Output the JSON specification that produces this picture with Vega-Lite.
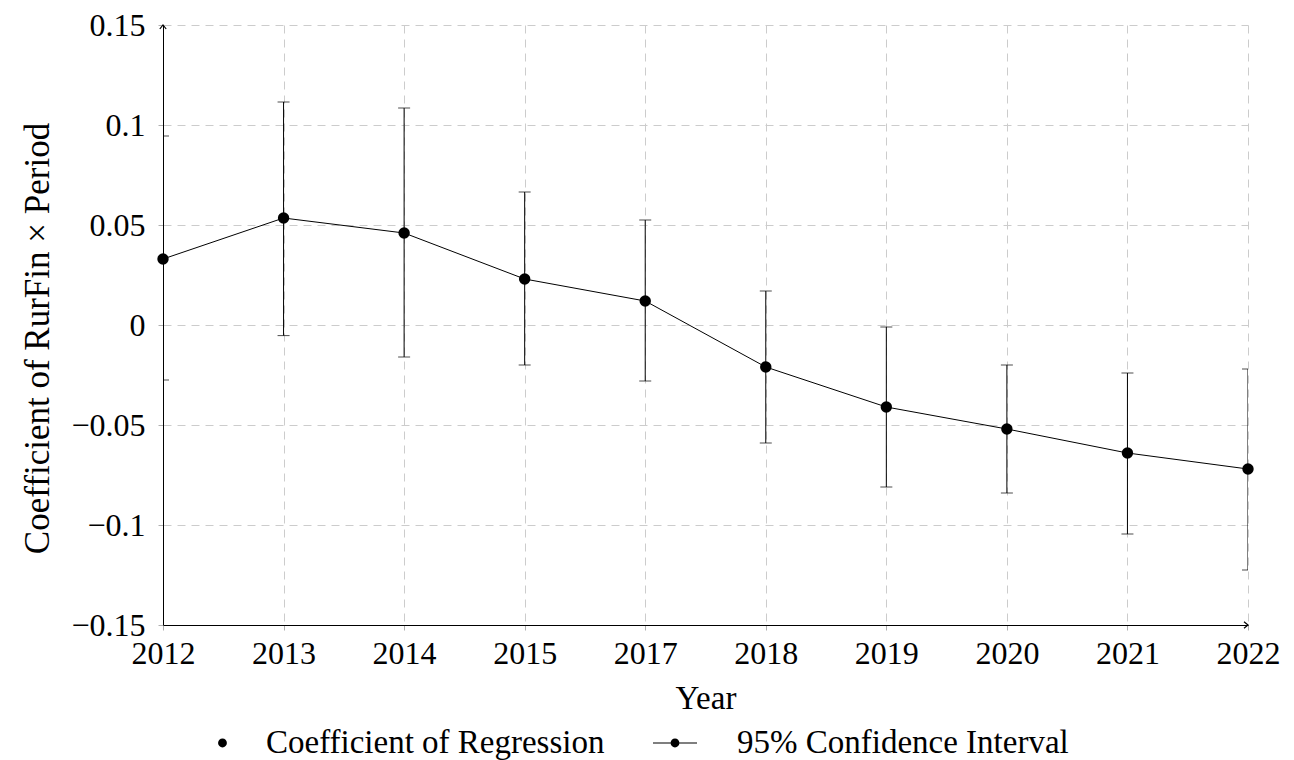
{
  "$schema": "https://vega.github.io/schema/vega-lite/v6.json",
  "width": 1085,
  "height": 600,
  "autosize": {"type": "none"},
  "padding": {"left": 163, "top": 25, "right": 46, "bottom": 135},
  "background": "white",
  "config": {
    "view": {"stroke": null},
    "font": "Liberation Serif",
    "axis": {
      "labelFont": "Liberation Serif",
      "titleFont": "Liberation Serif",
      "labelFontSize": 32,
      "titleFontSize": 33,
      "titleFontWeight": "normal",
      "labelColor": "black",
      "titleColor": "black",
      "domainColor": "black",
      "domainWidth": 1,
      "tickColor": "#b0b0b0",
      "tickSize": 5,
      "gridColor": "#cccccc",
      "gridDash": [8, 6],
      "gridWidth": 1
    },
    "legend": {
      "labelFont": "Liberation Serif",
      "labelFontSize": 33,
      "labelColor": "black",
      "labelLimit": 0
    }
  },
  "datasets": {
    "coef": [
      {"year": "2012", "coef": 0.033, "lo": -0.0275, "hi": 0.0945},
      {"year": "2013", "coef": 0.0535, "lo": -0.0053, "hi": 0.1115},
      {"year": "2014", "coef": 0.046, "lo": -0.016, "hi": 0.1085},
      {"year": "2015", "coef": 0.023, "lo": -0.020, "hi": 0.0665},
      {"year": "2017", "coef": 0.012, "lo": -0.028, "hi": 0.0525},
      {"year": "2018", "coef": -0.021, "lo": -0.059, "hi": 0.017},
      {"year": "2019", "coef": -0.041, "lo": -0.081, "hi": -0.001},
      {"year": "2020", "coef": -0.052, "lo": -0.084, "hi": -0.020},
      {"year": "2021", "coef": -0.064, "lo": -0.1045, "hi": -0.024},
      {"year": "2022", "coef": -0.072, "lo": -0.1225, "hi": -0.022}
    ],
    "arrowX": [{"year": "2022", "v": -0.15}],
    "arrowY": [{"year": "2012", "v": 0.15}]
  },
  "data": {"name": "coef"},
  "encoding": {
    "x": {
      "field": "year",
      "type": "ordinal",
      "sort": null,
      "scale": {"type": "point", "padding": 0},
      "axis": {
        "title": "Year",
        "grid": true,
        "labelAngle": 0,
        "labelPadding": 8,
        "titlePadding": 13
      }
    }
  },
  "layer": [
    {
      "mark": {"type": "rule", "color": "black", "strokeWidth": 1, "clip": true},
      "encoding": {
        "y": {
          "field": "lo",
          "type": "quantitative",
          "scale": {"domain": [-0.15, 0.15], "nice": false, "zero": false},
          "axis": {
            "title": "Coefficient of RurFin × Period",
            "titleFontSize": 35,
            "titleY": 313,
            "values": [-0.15, -0.1, -0.05, 0, 0.05, 0.1, 0.15],
            "format": "~g",
            "grid": true,
            "labelPadding": 13,
            "titlePadding": 15
          }
        },
        "y2": {"field": "hi"}
      }
    },
    {
      "mark": {"type": "tick", "color": "black", "thickness": 1, "size": 12, "orient": "horizontal", "clip": true},
      "encoding": {"y": {"field": "lo", "type": "quantitative"}}
    },
    {
      "mark": {"type": "tick", "color": "black", "thickness": 1, "size": 12, "orient": "horizontal", "clip": true},
      "encoding": {"y": {"field": "hi", "type": "quantitative"}}
    },
    {
      "mark": {"type": "line", "color": "black", "strokeWidth": 1},
      "encoding": {"y": {"field": "coef", "type": "quantitative"}}
    },
    {
      "mark": {"type": "point", "filled": true, "color": "black", "opacity": 1, "size": 130},
      "encoding": {"y": {"field": "coef", "type": "quantitative"}}
    },
    {
      "data": {"name": "arrowX"},
      "mark": {"type": "point", "filled": false, "color": "black", "opacity": 1, "strokeWidth": 1.2, "size": 64, "shape": "M-1,-0.8L0,0L-1,0.8"},
      "encoding": {"y": {"field": "v", "type": "quantitative"}}
    },
    {
      "data": {"name": "arrowY"},
      "mark": {"type": "point", "filled": false, "color": "black", "opacity": 1, "strokeWidth": 1.2, "size": 64, "shape": "M-0.8,1L0,0L0.8,1"},
      "encoding": {"y": {"field": "v", "type": "quantitative"}}
    },
    {
      "data": {"values": []},
      "mark": {"type": "point", "filled": true, "color": "black", "opacity": 1, "size": 1936},
      "encoding": {
        "x": {"value": 0},
        "shape": {
          "field": "series",
          "type": "nominal",
          "scale": {
            "domain": ["Coefficient of Regression", "95% Confidence Interval"],
            "range": [
              "M1.04,0A0.2,0.2,0,1,1,0.64,0A0.2,0.2,0,1,1,1.04,0Z",
              "M-1,-0.025H1V0.025H-1ZM0.2,0A0.2,0.2,0,1,1,-0.2,0A0.2,0.2,0,1,1,0.2,0Z"
            ]
          },
          "legend": {
            "title": null,
            "orient": "none",
            "direction": "horizontal",
            "legendX": 18,
            "legendY": 695,
            "labelOffset": 39,
            "columnPadding": 45,
            "symbolSize": 1936,
            "encode": {
              "symbols": {
                "update": {
                  "fill": {"value": "black"},
                  "stroke": {"value": "transparent"},
                  "opacity": {"value": 1}
                }
              }
            }
          }
        }
      }
    }
  ]
}
